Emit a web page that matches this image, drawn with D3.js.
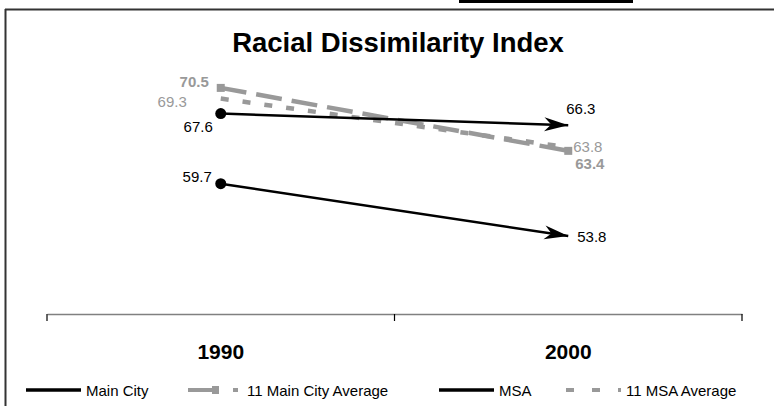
<!DOCTYPE html>
<html>
<head>
<meta charset="utf-8">
<script src="https://cdn.jsdelivr.net/npm/d3@7/dist/d3.min.js"></script>
<style>
  html, body { margin: 0; padding: 0; background: #fff; }
  svg { display: block; font-family: "Liberation Sans", Arial, sans-serif; }
</style>
</head>
<body>
<svg id="chart" width="774" height="406"></svg>
<script>
// Years on the category axis
const years = ["1990", "2000"];

// Dissimilarity index values per series (1990, 2000)
const mainCity = [67.6, 66.3];
const mainCityAvg = [70.5, 63.4];
const msa = [59.7, 53.8];
const msaAvg = [69.3, 63.8];

const seriesNames = ["Main City", "11 Main City Average", "MSA", "11 MSA Average"];

const svg = d3.select("#chart");
const W = 774, H = 406;
const gray = "#999999";

// Outer frame (top and left edges)
svg.append("rect").attr("x", 459).attr("y", 0).attr("width", 174).attr("height", 3).attr("fill", "#000");
svg.append("line").attr("x1", 5).attr("x2", W).attr("y1", 9.5).attr("y2", 9.5)
  .attr("stroke", "#333").attr("stroke-width", 2);
svg.append("line").attr("x1", 5.5).attr("x2", 5.5).attr("y1", 9).attr("y2", H)
  .attr("stroke", "#333").attr("stroke-width", 2);

// Title
svg.append("text").attr("x", 398).attr("y", 52).attr("text-anchor", "middle")
  .attr("font-size", 27.5).attr("font-weight", "bold").attr("fill", "#000")
  .text("Racial Dissimilarity Index");

// Scales
const x = d3.scaleBand().domain(years).range([47, 742]).paddingInner(0).paddingOuter(0);
const cx = d => x(d) + x.bandwidth() / 2;
const y = d3.scaleLinear().domain([45, 75]).range([314, 48]);

// Category axis: domain line with ticks on band boundaries, labels under band centres
const axis = d3.axisBottom(x).tickSize(0).tickPadding(30);
const gAxis = svg.append("g").attr("transform", `translate(0,${y(45)})`).call(axis);
gAxis.select(".domain").attr("stroke", "#808080").attr("stroke-width", 1.5);
gAxis.selectAll(".tick text").attr("font-size", 21).attr("font-weight", "bold")
  .attr("fill", "#000").attr("font-family", "Liberation Sans, Arial, sans-serif");
const bounds = [x(years[0]), x(years[1]), x(years[1]) + x.bandwidth()];
gAxis.selectAll(".edge").data(bounds).enter().append("line").attr("class", "edge")
  .attr("x1", d => d).attr("x2", d => d).attr("y1", 0).attr("y2", 7)
  .attr("stroke", "#000").attr("stroke-width", 1.2);

// Arrowhead marker for the black series
const defs = svg.append("defs");
defs.append("marker").attr("id", "arrow").attr("viewBox", "0 0 26 16")
  .attr("refX", 25).attr("refY", 8).attr("markerWidth", 26).attr("markerHeight", 16)
  .attr("markerUnits", "userSpaceOnUse").attr("orient", "auto")
  .append("path").attr("d", "M1,1 L25,8 L1,15 L8,8 Z").attr("fill", "#000");

const line = d3.line().x((d, i) => cx(years[i])).y(d => y(d));

// 11 Main City Average: long gray dashes with square markers
svg.append("path").datum(mainCityAvg).attr("d", line).attr("fill", "none")
  .attr("stroke", gray).attr("stroke-width", 4.5).attr("stroke-dasharray", "26,10");
svg.selectAll(".sqA").data(mainCityAvg).enter().append("rect").attr("class", "sqA")
  .attr("x", (d, i) => cx(years[i]) - 4).attr("y", d => y(d) - 4)
  .attr("width", 8).attr("height", 8).attr("fill", gray);

// 11 MSA Average: short gray dashes
svg.append("path").datum(msaAvg).attr("d", line).attr("fill", "none")
  .attr("stroke", gray).attr("stroke-width", 4.5).attr("stroke-dasharray", "8,14");

// Main City and MSA: black lines, dot at start, arrow at end
[mainCity, msa].forEach(s => {
  svg.append("path").datum(s).attr("d", line).attr("fill", "none")
    .attr("stroke", "#000").attr("stroke-width", 2.5).attr("marker-end", "url(#arrow)");
  svg.append("circle").attr("cx", cx(years[0])).attr("cy", y(s[0])).attr("r", 5.5).attr("fill", "#000");
});

// Value labels
const lab = (txt, xx, yy, anchor, color, bold) =>
  svg.append("text").attr("x", xx).attr("y", yy).attr("text-anchor", anchor)
    .attr("font-size", 15).attr("font-weight", bold ? "bold" : "normal").attr("fill", color).text(txt);
const x0 = cx(years[0]), x1 = cx(years[1]);
lab(mainCityAvg[0].toFixed(1), x0 - 12, y(mainCityAvg[0]) - 1, "end", gray, true);
lab(msaAvg[0].toFixed(1), x0 - 34, y(msaAvg[0]) + 8, "end", gray, false);
lab(mainCity[0].toFixed(1), x0 - 8, y(mainCity[0]) + 18, "end", "#000", false);
lab(msa[0].toFixed(1), x0 - 9, y(msa[0]) - 2, "end", "#000", false);
lab(mainCity[1].toFixed(1), x1 - 2, y(mainCity[1]) - 11, "start", "#000", false);
lab(msaAvg[1].toFixed(1), x1 + 5, y(msaAvg[1]) + 4.5, "start", gray, false);
lab(mainCityAvg[1].toFixed(1), x1 + 7, y(mainCityAvg[1]) + 18, "start", gray, true);
lab(msa[1].toFixed(1), x1 + 9, y(msa[1]) + 6, "start", "#000", false);

// Legend
const ly = 390;
const legend = svg.append("g");
const legItems = [
  { name: seriesNames[0], x: 26, type: "solid" },
  { name: seriesNames[1], x: 188, type: "long" },
  { name: seriesNames[2], x: 439, type: "solid" },
  { name: seriesNames[3], x: 566, type: "short" }
];
legItems.forEach(it => {
  if (it.type === "solid") {
    legend.append("line").attr("x1", it.x).attr("x2", it.x + 55).attr("y1", ly).attr("y2", ly)
      .attr("stroke", "#000").attr("stroke-width", 3.5);
    legend.append("text").attr("x", it.x + 60).attr("y", ly + 5.5).attr("font-size", 15).text(it.name);
  } else if (it.type === "long") {
    legend.append("line").attr("x1", it.x).attr("x2", it.x + 50).attr("y1", ly).attr("y2", ly)
      .attr("stroke", gray).attr("stroke-width", 4).attr("stroke-dasharray", "27,18");
    legend.append("rect").attr("x", it.x + 24).attr("y", ly - 4).attr("width", 7).attr("height", 8).attr("fill", gray);
    legend.append("text").attr("x", it.x + 59).attr("y", ly + 5.5).attr("font-size", 15).text(it.name);
  } else {
    legend.append("line").attr("x1", it.x).attr("x2", it.x + 55).attr("y1", ly).attr("y2", ly)
      .attr("stroke", gray).attr("stroke-width", 4).attr("stroke-dasharray", "8,18");
    legend.append("text").attr("x", it.x + 60).attr("y", ly + 5.5).attr("font-size", 15).text(it.name);
  }
});
</script>
</body>
</html>
